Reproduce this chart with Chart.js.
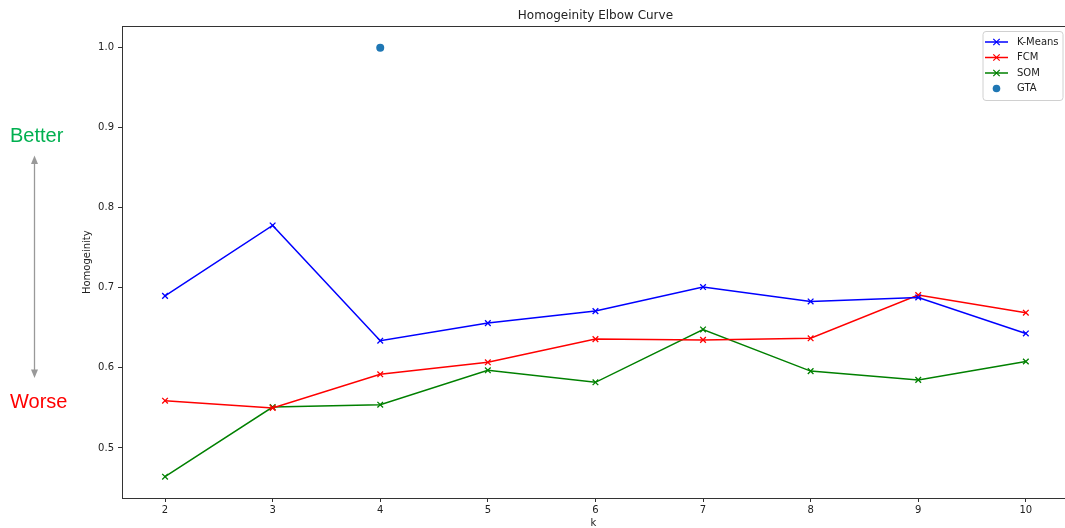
<!DOCTYPE html>
<html><head><meta charset="utf-8">
<script src="https://cdn.jsdelivr.net/npm/chart.js@4"></script>
<style>html,body{margin:0;padding:0;background:#fff;}#wrap{width:1065px;height:528px;position:relative;}</style>
</head><body><div id="wrap"><canvas id="c" width="1065" height="528"></canvas></div>
<script>
const chartTitle = 'Homogeinity Elbow Curve';
const xTitle = 'k';
const yTitle = 'Homogeinity';
const kValues = [2, 3, 4, 5, 6, 7, 8, 9, 10];
const kmeans = [0.690, 0.778, 0.634, 0.656, 0.671, 0.701, 0.683, 0.688, 0.643];
const fcm    = [0.559, 0.550, 0.592, 0.607, 0.636, 0.635, 0.637, 0.691, 0.669];
const som    = [0.464, 0.551, 0.554, 0.597, 0.582, 0.648, 0.596, 0.585, 0.608];
const gtaK = [4];
const gtaValues = [1.0];
const yTickValues = [0.5, 0.6, 0.7, 0.8, 0.9, 1.0];
const seriesNames = ['K-Means', 'FCM', 'SOM', 'GTA'];
const betterLabel = 'Better';
const worseLabel = 'Worse';

const FONT = "'DejaVu Sans', sans-serif";
const AX = '#333333';
const pts = (xs, ys) => xs.map((x, i) => ({x: x, y: ys[i]}));

function lineDs(label, values, color) {
  return {label, data: pts(kValues, values), borderColor: color, backgroundColor: color,
    borderWidth: 1.5, tension: 0, showLine: true, pointStyle: 'crossRot', pointRadius: 4,
    pointBorderWidth: 1.3, pointBorderColor: color, pointHoverRadius: 4};
}

const decor = {
  id: 'decor',
  afterDraw(chart) {
    const ctx = chart.ctx;
    const xs = chart.scales.x;
    ctx.save();
    // title
    ctx.fillStyle = '#222';
    ctx.font = '12px ' + FONT;
    ctx.textAlign = 'center';
    ctx.textBaseline = 'middle';
    ctx.fillText(chartTitle, xs.getPixelForValue(6), 16);

    // legend
    const lx = 983, ly = 31.5, lw = 80, lh = 69;
    ctx.beginPath();
    ctx.roundRect(lx, ly, lw, lh, 3);
    ctx.fillStyle = 'rgba(255,255,255,0.85)';
    ctx.fill();
    ctx.strokeStyle = '#d0d0d0';
    ctx.lineWidth = 1;
    ctx.stroke();
    chart.data.datasets.forEach((ds, i) => {
      const y = 42 + i * 15.5;
      const c = ds.borderColor;
      if (ds.showLine) {
        ctx.beginPath();
        ctx.moveTo(985, y); ctx.lineTo(1008, y);
        ctx.strokeStyle = c; ctx.lineWidth = 1.5; ctx.stroke();
        ctx.beginPath();
        const r = 3.2, cx = 996.5;
        ctx.moveTo(cx - r, y - r); ctx.lineTo(cx + r, y + r);
        ctx.moveTo(cx - r, y + r); ctx.lineTo(cx + r, y - r);
        ctx.lineWidth = 1.2; ctx.stroke();
      } else {
        ctx.beginPath();
        ctx.arc(996.5, y, 3.8, 0, Math.PI * 2);
        ctx.fillStyle = ds.backgroundColor; ctx.fill();
      }
      ctx.fillStyle = '#222';
      ctx.font = '10px ' + FONT;
      ctx.textAlign = 'left';
      ctx.textBaseline = 'middle';
      ctx.fillText(ds.label, 1017, y);
    });

    // Better / Worse annotation
    ctx.strokeStyle = '#999999';
    ctx.fillStyle = '#999999';
    ctx.lineWidth = 1.3;
    ctx.beginPath(); ctx.moveTo(34.5, 162); ctx.lineTo(34.5, 371); ctx.stroke();
    ctx.beginPath(); ctx.moveTo(34.5, 155.5); ctx.lineTo(31, 164); ctx.lineTo(38, 164); ctx.closePath(); ctx.fill();
    ctx.beginPath(); ctx.moveTo(34.5, 378); ctx.lineTo(31, 369.5); ctx.lineTo(38, 369.5); ctx.closePath(); ctx.fill();
    ctx.font = "20px 'Liberation Sans', Arial, sans-serif";
    ctx.textAlign = 'left';
    ctx.textBaseline = 'middle';
    ctx.fillStyle = '#00b050';
    ctx.fillText(betterLabel, 10, 136);
    ctx.fillStyle = '#ff0000';
    ctx.fillText(worseLabel, 10, 402);
    ctx.restore();
  }
};

new Chart(document.getElementById('c'), {
  type: 'line',
  data: {
    datasets: [
      lineDs(seriesNames[0], kmeans, '#0000ff'),
      lineDs(seriesNames[1], fcm, '#ff0000'),
      lineDs(seriesNames[2], som, '#008000'),
      {label: seriesNames[3], data: pts(gtaK, gtaValues), showLine: false, pointStyle: 'circle',
       pointRadius: 4, borderColor: '#1f77b4', backgroundColor: '#1f77b4', pointBorderWidth: 0}
    ]
  },
  options: {
    responsive: false, devicePixelRatio: 1, animation: false,
    layout: {autoPadding: false, padding: {top: 26.4, left: 0, right: 0, bottom: 0}},
    plugins: {legend: {display: false}, title: {display: false}, tooltip: {enabled: false}},
    scales: {
      x: {
        type: 'linear', position: 'bottom', min: 1.6, max: 10.364,
        afterBuildTicks: s => { s.ticks = kValues.map(v => ({value: v})); },
        afterFit: s => { s.height = 30; },
        grid: {drawOnChartArea: false, color: AX, tickLength: 4, tickWidth: 1},
        border: {display: true, color: AX, width: 1},
        ticks: {color: '#222', font: {family: FONT, size: 10}, padding: 2, maxRotation: 0,
                callback: v => String(v)},
        title: {display: true, text: xTitle, color: '#222', font: {family: FONT, size: 10}, padding: {top: 0, bottom: -1}}
      },
      x2: {
        type: 'linear', position: 'top', min: 1.6, max: 10.364,
        afterFit: s => { s.height = 0; },
        grid: {display: false, drawTicks: false},
        border: {display: true, color: AX, width: 1},
        ticks: {display: false}
      },
      y: {
        type: 'linear', position: 'left', min: 0.4374, max: 1.0268,
        afterBuildTicks: s => { s.ticks = yTickValues.map(v => ({value: v})); },
        afterFit: s => { s.width = 122; },
        grid: {drawOnChartArea: false, color: AX, tickLength: 4, tickWidth: 1},
        border: {display: true, color: AX, width: 1},
        ticks: {color: '#222', font: {family: FONT, size: 10}, padding: 4, callback: v => v.toFixed(1)},
        title: {display: true, text: yTitle, color: '#222', font: {family: FONT, size: 10}, padding: {top: 81, bottom: 0}}
      }
    }
  },
  plugins: [decor]
});
</script></body></html>
